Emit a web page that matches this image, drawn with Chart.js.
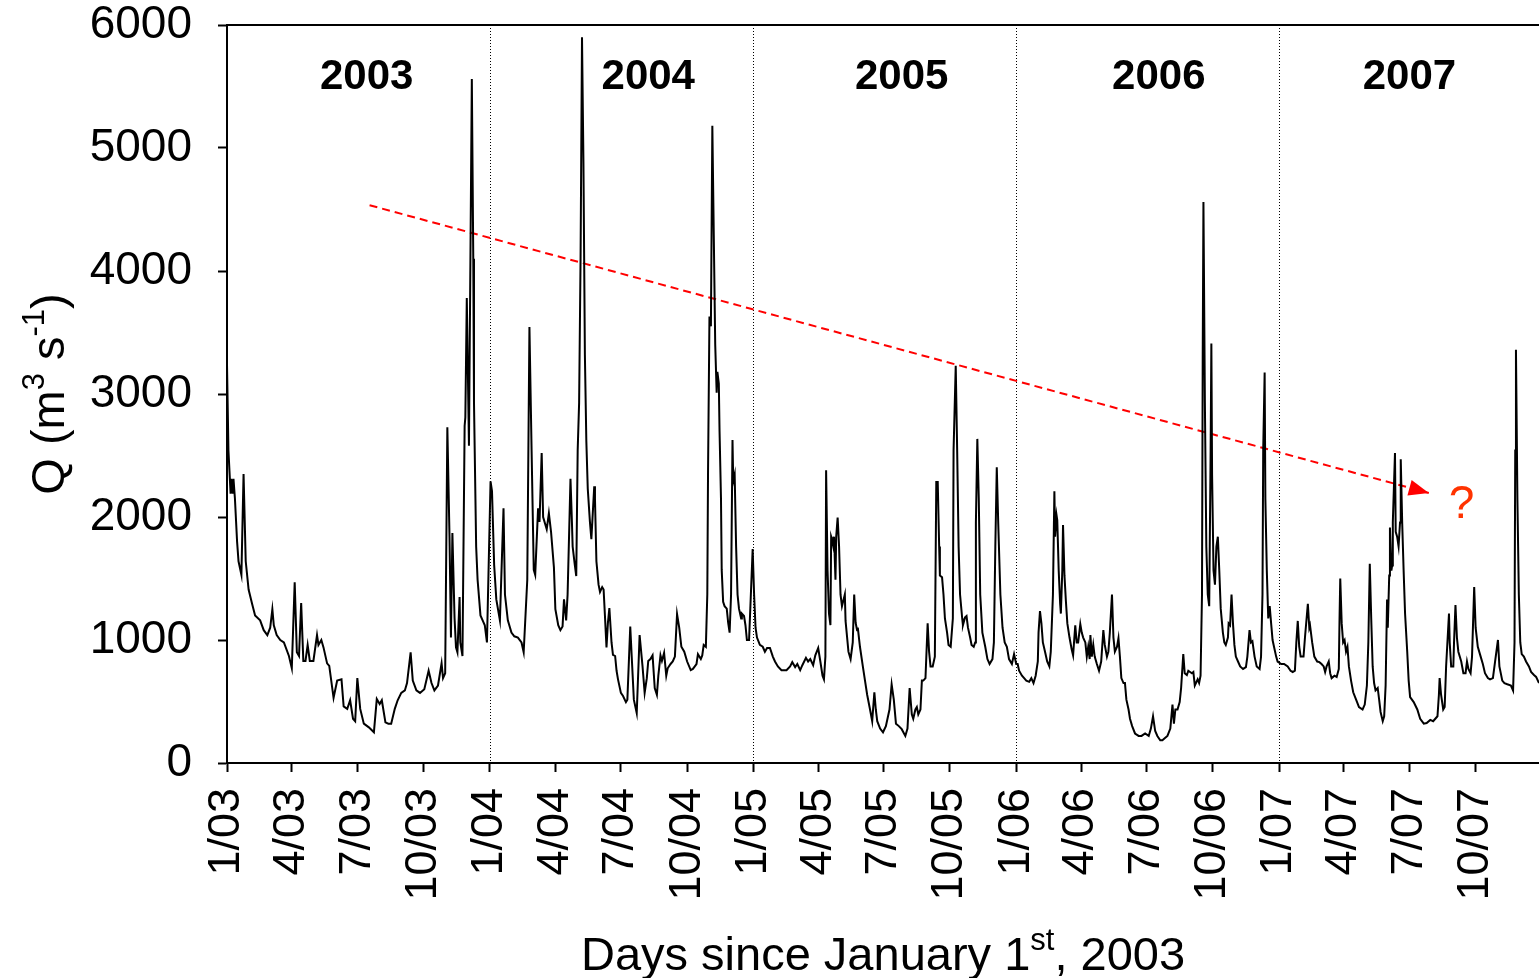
<!DOCTYPE html>
<html>
<head>
<meta charset="utf-8">
<title>Q 2003-2007</title>
<script src="https://cdn.jsdelivr.net/npm/chart.js@4.4.1/dist/chart.umd.min.js"></script>
<style>
  html, body { margin: 0; padding: 0; background: #fff; }
  canvas { display: block; }
</style>
</head>
<body>
<canvas id="qChart" width="1539" height="978"></canvas>
<script>
// hydrograph vertices: day since 1 Jan 2003 / discharge (m3 s-1)
const days = [
  0, 2, 5, 6, 8, 9, 11, 14, 16, 20, 23, 26, 30, 35, 39, 46, 51, 56, 60, 63, 65, 69, 74, 79, 86, 90, 94, 97, 100, 103, 106, 109, 112, 115, 120, 125, 127, 131, 134, 139, 142, 148, 153, 159, 162, 167, 171, 175, 178, 181, 185, 190, 197, 204, 208, 212, 215, 220, 224, 228, 233, 237, 242, 247, 250, 255, 258, 263, 268, 274, 280, 284, 288, 293, 298, 300, 303, 306, 309, 311, 313, 316, 318, 320, 323, 324, 327, 330, 331, 333, 336, 340, 342, 343, 345, 346, 348, 352, 355, 358, 361,
  366, 368, 371, 374, 379, 384, 386, 390, 395, 399, 404, 409, 412, 417, 420, 423, 426, 428, 432, 434, 437, 439, 444, 447, 450, 454, 456, 460, 463, 466, 468, 471, 473, 477, 479, 480, 483, 485, 487, 489, 491, 493, 495, 497, 499, 501, 504, 506, 510, 511, 513, 516, 518, 521, 523, 525, 527, 529, 531, 534, 536, 539, 541, 543, 547, 550, 554, 556, 560, 562, 565, 569, 573, 577, 580, 583, 585, 588, 591, 594, 597, 599, 602, 604, 607, 610, 612, 616, 619, 622, 625, 628, 631, 635, 639, 644, 647, 652, 654, 658, 660, 662, 665, 667, 668, 670, 672, 674, 676, 678, 680, 681, 683, 684, 686, 687, 689, 691, 694, 696, 698, 700, 702, 703, 705, 707, 709, 711, 714, 715, 718, 720, 722, 725, 730,
  732, 734, 736, 740, 744, 747, 750, 754, 758, 761, 765, 770, 777, 782, 785, 789, 792, 796, 799, 804, 807, 810, 814, 817, 821, 824, 827, 829, 831, 832, 834, 836, 838, 839, 840, 842, 843, 845, 846, 848, 850, 852, 854, 858, 859, 863, 866, 869, 871, 873, 875, 876, 879, 883, 886, 889, 893, 896, 899, 901, 903, 907, 911, 915, 920, 923, 926, 929, 933, 937, 942, 945, 948, 951, 953, 956, 958, 960, 963, 965, 967, 970, 973, 975, 977, 980, 983, 985, 987, 989, 990, 993, 995, 997, 1000, 1002, 1005, 1008, 1009, 1012, 1014, 1016, 1018, 1021, 1022, 1025, 1027, 1029, 1032, 1034, 1037, 1039, 1040, 1042, 1044, 1046, 1049, 1053, 1056, 1059, 1063, 1065, 1067, 1069, 1071, 1074, 1077, 1080, 1083, 1086, 1090, 1093, 1096,
  1098, 1100, 1104, 1107, 1110, 1114, 1117, 1120, 1123, 1126, 1127, 1129, 1131, 1133, 1136, 1139, 1142, 1144, 1147, 1149, 1150, 1152, 1153, 1155, 1157, 1158, 1160, 1161, 1163, 1165, 1167, 1170, 1173, 1175, 1178, 1180, 1182, 1185, 1187, 1189, 1192, 1194, 1196, 1198, 1199, 1201, 1203, 1205, 1208, 1211, 1214, 1217, 1219, 1222, 1224, 1226, 1229, 1231, 1233, 1236, 1238, 1240, 1242, 1245, 1247, 1249, 1252, 1254, 1257, 1261, 1266, 1270, 1275, 1280, 1283, 1286, 1289, 1292, 1296, 1299, 1303, 1306, 1310, 1313, 1315, 1317, 1320, 1323, 1325, 1328, 1330, 1333, 1335, 1340, 1342, 1344, 1348, 1350, 1352, 1354, 1355, 1356, 1358, 1360, 1362, 1364, 1366, 1367, 1368, 1370, 1372, 1373, 1374, 1376, 1378, 1380, 1383, 1385, 1387, 1390, 1391, 1393, 1395, 1397, 1399, 1401, 1404, 1407, 1411, 1415, 1417, 1420, 1422, 1424, 1427, 1430, 1434, 1436, 1438, 1439, 1441, 1442, 1444, 1446, 1448, 1450, 1452, 1454, 1457, 1459,
  1464, 1468, 1473, 1477, 1480, 1483, 1485, 1487, 1489, 1491, 1495, 1497, 1501, 1503, 1504, 1507, 1510, 1514, 1517, 1520, 1523, 1525, 1527, 1530, 1532, 1534, 1538, 1541, 1544, 1545, 1546, 1548, 1550, 1552, 1554, 1556, 1558, 1561, 1564, 1568, 1572, 1577, 1580, 1583, 1585, 1587, 1589, 1591, 1593, 1595, 1598, 1600, 1602, 1605, 1607, 1609, 1611, 1612, 1614, 1615, 1617, 1618, 1619, 1622, 1623, 1625, 1627, 1629, 1630, 1632, 1634, 1636, 1639, 1641, 1643, 1648, 1653, 1657, 1662, 1666, 1671, 1675, 1678, 1681, 1683, 1684, 1686, 1689, 1691, 1693, 1697, 1698, 1700, 1703, 1704, 1706, 1708, 1710, 1714, 1717, 1720, 1722, 1724, 1727, 1729, 1732, 1734, 1737, 1741, 1744, 1747, 1751, 1754, 1758, 1761, 1765, 1767, 1771, 1774, 1778, 1783, 1786, 1788, 1789, 1790, 1792, 1794, 1796, 1798, 1801, 1804, 1808, 1811, 1815, 1818, 1822
];
const flows = [
  3240, 2540, 2190, 2310, 2190, 2310, 2150, 1800, 1640, 1530, 2350, 1640, 1410, 1290, 1200, 1160, 1080, 1040, 1100, 1250, 1120, 1040, 1000, 980, 870, 770, 1470, 900, 870, 1300, 830, 830, 960, 830, 830, 1040, 960, 1000, 940, 810, 790, 530, 670, 680, 460, 440, 510, 360, 340, 690, 440, 320, 290, 250, 520, 480, 510, 330, 320, 320, 440, 510, 570, 590, 650, 900, 670, 590, 570, 600, 750, 650, 590, 630, 810, 690, 730, 2730, 1840, 1020, 1870, 1180, 940, 900, 1350, 980, 870, 2740, 2810, 3780, 2580, 5560, 4100, 2930, 2150, 1760, 1490, 1200, 1160, 1120, 980,
  2290, 2210, 1610, 1330, 1160, 2070, 1370, 1160, 1060, 1030, 1020, 980, 900, 1490, 3545, 2540, 1570, 1530, 2070, 1960, 2520, 2000, 1900, 2030, 1880, 1590, 1250, 1120, 1080, 1110, 1330, 1160, 1370, 2310, 1960, 1760, 1610, 1520, 2540, 2930, 4100, 5900, 4880, 3320, 2620, 2230, 1960, 1820, 2250, 2150, 1640, 1450, 1390, 1430, 1410, 1180, 940, 1140, 1260, 980, 880, 870, 750, 680, 570, 545, 495, 515, 1110, 870, 515, 405, 1040, 790, 570, 690, 830, 845, 875, 610, 555, 710, 875, 830, 895, 710, 770, 805, 825, 865, 1210, 1100, 945, 905, 825, 755, 765, 805, 885, 845, 875, 960, 945, 1370, 2345, 3630, 3550, 5180, 4290, 3400, 3010, 3180, 3085, 2700, 2150, 1570, 1310, 1275, 1255, 1140, 1060, 1370, 2625, 2290, 2345, 1760, 1370, 1255, 1175, 1215, 1195, 1120, 1000, 1000, 1740,
  1370, 1100, 1020, 960, 945, 905, 935, 935, 865, 825, 785, 755, 755, 785, 820, 780, 805, 755, 795, 855, 825, 845, 795, 875, 935, 825, 710, 680, 865, 2380, 1565, 1215, 1120, 1840, 1820, 1760, 1840, 1490, 1840, 1995, 1760, 1370, 1275, 1370, 1155, 905, 845, 980, 1370, 1140, 1080, 1100, 945, 785, 670, 555, 435, 340, 575, 435, 340, 280, 250, 300, 435, 640, 515, 320, 300, 275, 220, 280, 610, 395, 360, 435, 455, 395, 435, 670, 670, 690, 1135, 905, 785, 785, 865, 2285, 2285, 1760, 1525, 1510, 1370, 1175, 1060, 960, 945, 1175, 2540, 3230, 2540, 1760, 1370, 1175, 1120, 1185, 1195, 1100, 1020, 960, 945, 980, 1955, 2635, 2150, 1370, 1060, 945, 845, 805, 845, 980, 1760, 2405, 1955, 1370, 1100, 980, 945, 845, 805, 885, 805,
  805, 750, 710, 690, 670, 660, 690, 650, 710, 825, 1060, 1235, 1135, 980, 905, 825, 785, 905, 1370, 2210, 1840, 2015, 1975, 1565, 1295, 1215, 1565, 1935, 1525, 1315, 1135, 1020, 925, 875, 1120, 980, 980, 1130, 1060, 1020, 980, 865, 945, 845, 1040, 865, 960, 865, 805, 750, 825, 1080, 960, 865, 905, 1060, 1370, 1020, 905, 945, 1015, 865, 690, 650, 650, 515, 435, 360, 300, 240, 220, 220, 240, 220, 280, 380, 260, 220, 185, 185, 205, 220, 280, 475, 320, 435, 435, 495, 610, 885, 730, 715, 750, 730, 740, 630, 680, 650, 710, 1370, 3320, 4560, 2930, 1760, 1370, 1275, 2540, 3410, 2345, 1565, 1450, 1605, 1760, 1840, 1565, 1255, 1060, 980, 960, 1020, 1135, 1120, 1370, 1135, 960, 865, 825, 785, 765, 780, 865, 1080, 980, 990, 865, 785, 765, 865, 1370, 2540, 3175, 2150, 1565, 1175, 1275, 1135, 1000, 945, 865, 825,
  805, 805, 785, 750, 740, 750, 980, 1155, 945, 865, 865, 1020, 1295, 1100, 1120, 980, 865, 825, 820, 805, 785, 740, 785, 825, 730, 690, 710, 700, 765, 1175, 1500, 1135, 980, 1000, 905, 945, 785, 670, 575, 515, 455, 435, 475, 630, 980, 1620, 1175, 785, 650, 590, 610, 515, 415, 340, 380, 630, 1330, 1100, 1525, 1915, 1565, 1605, 1955, 2520, 1880, 1840, 1760, 1955, 2470, 1955, 1565, 1215, 905, 670, 535, 495, 435, 360, 320, 325, 350, 340, 360, 380, 555, 690, 555, 435, 455, 785, 1215, 980, 785, 785, 980, 1285, 1020, 905, 825, 730, 730, 825, 765, 730, 865, 1430, 1100, 945, 865, 805, 730, 690, 680, 690, 825, 1000, 785, 670, 650, 640, 630, 590, 980, 2540, 3360, 2150, 1370, 980, 885, 865, 825, 785, 740, 715, 700, 650
];

// quarterly ticks on the day axis
const tickDays = [0, 90, 181, 273, 365, 456, 547, 639, 731, 821, 912, 1004, 1096, 1186, 1277, 1369, 1461, 1551, 1642, 1734];
const tickLabels = ['1/03', '4/03', '7/03', '10/03', '1/04', '4/04', '7/04', '10/04', '1/05', '4/05', '7/05', '10/05',
                    '1/06', '4/06', '7/06', '10/06', '1/07', '4/07', '7/07', '10/07'];

const yearStarts = [365, 731, 1096, 1461];
const yearNames = ['2003', '2004', '2005', '2006', '2007'];

// decreasing-peaks trend arrow
const trendDays = [198, 1669];
const trendFlows = [4535, 2195];

const FONT = "'Liberation Sans', Arial, Helvetica, sans-serif";
const yearLabelPos = { days: [194, 585, 937, 1294, 1642], q: 5570 };

// draws a run of [text, isSuperscript] pieces centred on (0, 0)
function drawRich(ctx, parts, size) {
  let total = 0;
  const widths = parts.map(([t, sup]) => {
    ctx.font = (sup ? Math.round(size * 0.65) : size) + 'px ' + FONT;
    const w = ctx.measureText(t).width;
    total += w;
    return w;
  });
  let x = -total / 2;
  ctx.textAlign = 'left';
  ctx.textBaseline = 'alphabetic';
  parts.forEach(([t, sup], i) => {
    ctx.font = (sup ? Math.round(size * 0.65) : size) + 'px ' + FONT;
    ctx.fillText(t, x, sup ? -size * 0.42 : 0);
    x += widths[i];
  });
}

const decorations = {
  id: 'decorations',
  beforeDatasetsDraw(chart) {
    const { ctx, chartArea: a, scales: { x } } = chart;
    ctx.save();
    ctx.strokeStyle = '#000';
    ctx.lineWidth = 1;
    ctx.setLineDash([1, 2]);
    yearStarts.forEach(d => {
      const px = Math.round(x.getPixelForValue(d)) + 0.5;
      ctx.beginPath();
      ctx.moveTo(px, a.top);
      ctx.lineTo(px, a.bottom);
      ctx.stroke();
    });
    ctx.restore();
  },
  afterDraw(chart) {
    const { ctx, chartArea: a, scales: { x, y } } = chart;
    ctx.save();

    // top frame line
    ctx.strokeStyle = '#000';
    ctx.lineWidth = 2;
    ctx.beginPath();
    ctx.moveTo(a.left, a.top);
    ctx.lineTo(a.right, a.top);
    ctx.stroke();

    // year labels
    ctx.fillStyle = '#000';
    ctx.font = 'bold 42px ' + FONT;
    ctx.textAlign = 'center';
    ctx.textBaseline = 'middle';
    yearNames.forEach((name, i) => {
      ctx.fillText(name, x.getPixelForValue(yearLabelPos.days[i]), y.getPixelForValue(yearLabelPos.q));
    });

    // arrowhead at the end of the trend line
    const x0 = x.getPixelForValue(trendDays[0]), y0 = y.getPixelForValue(trendFlows[0]);
    const x1 = x.getPixelForValue(trendDays[1]), y1 = y.getPixelForValue(trendFlows[1]);
    const ang = Math.atan2(y1 - y0, x1 - x0);
    ctx.fillStyle = '#ff0000';
    ctx.beginPath();
    ctx.moveTo(x1, y1);
    ctx.lineTo(x1 - 20 * Math.cos(ang) + 8 * Math.sin(ang), y1 - 20 * Math.sin(ang) - 8 * Math.cos(ang));
    ctx.lineTo(x1 - 20 * Math.cos(ang) - 8 * Math.sin(ang), y1 - 20 * Math.sin(ang) + 8 * Math.cos(ang));
    ctx.closePath();
    ctx.fill();

    ctx.fillStyle = '#ff3300';
    ctx.font = '46px ' + FONT;
    ctx.textAlign = 'left';
    ctx.textBaseline = 'middle';
    ctx.fillText('?', x1 + 20, y1 + 12);

    // axis titles
    ctx.fillStyle = '#000';
    ctx.save();
    ctx.translate(64, (a.top + a.bottom) / 2);
    ctx.rotate(-Math.PI / 2);
    drawRich(ctx, [['Q (m', false], ['3', true], [' s', false], ['-1', true], [')', false]], 47);
    ctx.restore();

    ctx.save();
    ctx.translate((a.left + a.right) / 2, 970);
    drawRich(ctx, [['Days since January 1', false], ['st', true], [', 2003', false]], 47);
    ctx.restore();

    ctx.restore();
  }
};

const ctx = document.getElementById('qChart');

new Chart(ctx, {
  type: 'line',
  data: {
    datasets: [
      {
        label: 'Q',
        data: days.map((d, i) => ({ x: d, y: flows[i] })),
        borderColor: '#000',
        borderWidth: 2,
        pointRadius: 0,
        tension: 0
      },
      {
        label: 'trend',
        data: trendDays.map((d, i) => ({ x: d, y: trendFlows[i] })),
        borderColor: '#ff0000',
        borderWidth: 2,
        borderDash: [8, 5],
        pointRadius: 0,
        tension: 0
      }
    ]
  },
  options: {
    responsive: false,
    animation: false,
    layout: { padding: { top: 25, right: 0, bottom: 0, left: 0 } },
    plugins: {
      legend: { display: false },
      tooltip: { enabled: false }
    },
    scales: {
      x: {
        type: 'linear',
        min: 0,
        max: 1822,
        afterBuildTicks: scale => { scale.ticks = tickDays.map(v => ({ value: v })); },
        afterFit: scale => {
          scale.height = 215;
          scale.paddingLeft = 0;
          scale.paddingRight = 0;
        },
        ticks: {
          autoSkip: false,
          maxRotation: 90,
          minRotation: 90,
          padding: 16,
          color: '#000',
          font: { family: FONT, size: 45, lineHeight: 1 },
          callback: v => tickLabels[tickDays.indexOf(v)]
        },
        grid: { drawOnChartArea: false, tickLength: 9, tickColor: '#000', tickWidth: 2 },
        border: { display: true, color: '#000', width: 2 }
      },
      y: {
        min: 0,
        max: 6000,
        afterFit: scale => {
          scale.width = 227;
          scale.paddingTop = 0;
          scale.paddingBottom = 0;
        },
        ticks: {
          stepSize: 1000,
          padding: 26,
          color: '#000',
          font: { family: FONT, size: 46, lineHeight: 1 },
          callback: v => String(v)
        },
        grid: { drawOnChartArea: false, tickLength: 9, tickColor: '#000', tickWidth: 2 },
        border: { display: true, color: '#000', width: 2 }
      }
    }
  },
  plugins: [decorations]
});
</script>
</body>
</html>
